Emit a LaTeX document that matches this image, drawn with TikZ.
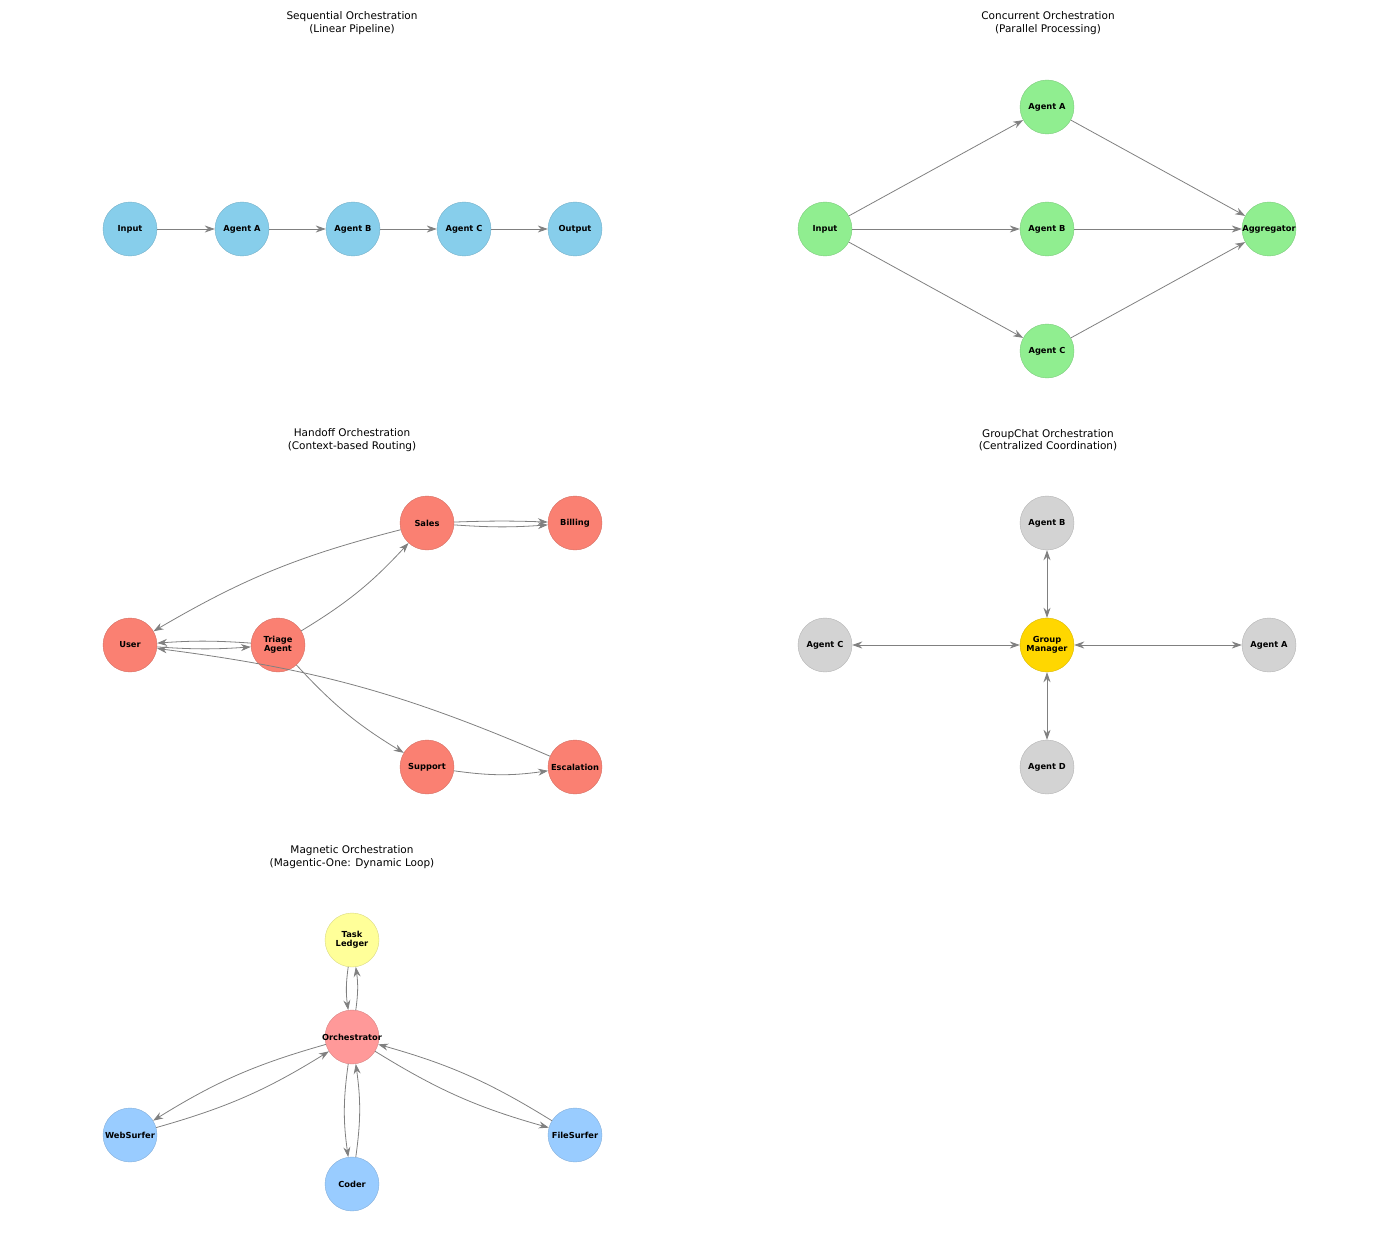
\documentclass[tikz,border=0pt]{standalone}
\usepackage{fontspec}
\setmainfont{DejaVu Sans}
\usetikzlibrary{arrows.meta}
\definecolor{sky}{HTML}{87CEEB}
\definecolor{lgreen}{HTML}{90EE90}
\definecolor{salmon}{HTML}{FA8072}
\definecolor{lgray}{HTML}{D3D3D3}
\definecolor{gold}{HTML}{FFD700}
\definecolor{lyellow}{HTML}{FFFF99}
\definecolor{lred}{HTML}{FF9999}
\definecolor{lblue}{HTML}{99CCFF}
\definecolor{edgec}{HTML}{808080}
\begin{document}
\begin{tikzpicture}[x=1pt,y=-1pt,
  nd/.style={circle,minimum size=54pt,inner sep=0pt,fill=#1,draw=#1!85!black,line width=0.4pt},
  t/.style={label={[font=\fontsize{8.3}{9.3}\selectfont\bfseries,align=center,inner sep=0pt]center:#1}},
  ttl/.style={font=\fontsize{10.5}{12.5}\selectfont,align=center},
  e/.style={draw=edgec,line width=0.8pt,-{Stealth[length=10pt,width=7pt]}},
  be/.style={draw=edgec,line width=0.8pt,{Stealth[length=10pt,width=7pt]}-{Stealth[length=10pt,width=7pt]}},
  br/.style={bend right=8}]
\useasboundingbox (0,0) rectangle (1400,1260);
% Sequential
\node[ttl] (t1) at (352,23) {Sequential Orchestration\\(Linear Pipeline)};
\node[nd=sky,t=Input] (s1) at (130,229) {};
\node[nd=sky,t=Agent A] (s2) at (242,229) {};
\node[nd=sky,t=Agent B] (s3) at (353,229) {};
\node[nd=sky,t=Agent C] (s4) at (464,229) {};
\node[nd=sky,t=Output] (s5) at (575,229) {};
\draw[e] (s1)--(s2); \draw[e] (s2)--(s3); \draw[e] (s3)--(s4); \draw[e] (s4)--(s5);
% Concurrent
\node[ttl] (t2) at (1048,23) {Concurrent Orchestration\\(Parallel Processing)};
\node[nd=lgreen,t=Input] (c0) at (825,229) {};
\node[nd=lgreen,t=Agent A] (ca) at (1047,107) {};
\node[nd=lgreen,t=Agent B] (cb) at (1047,229) {};
\node[nd=lgreen,t=Agent C] (cc) at (1047,351) {};
\node[nd=lgreen,t=Aggregator] (cg) at (1269,229) {};
\draw[e] (c0)--(ca); \draw[e] (c0)--(cb); \draw[e] (c0)--(cc);
\draw[e] (ca)--(cg); \draw[e] (cb)--(cg); \draw[e] (cc)--(cg);
% Handoff
\node[ttl] (t3) at (352,440) {Handoff Orchestration\\(Context-based Routing)};
\node[nd=salmon,t=User] (hu) at (130,645) {};
\node[nd=salmon,t={Triage\\Agent}] (ht) at (278,645) {};
\node[nd=salmon,t=Sales] (hs) at (427,523) {};
\node[nd=salmon,t=Billing] (hb) at (575,523) {};
\node[nd=salmon,t=Support] (hp) at (427,767) {};
\node[nd=salmon,t=Escalation] (he) at (575,767) {};
\draw[e] (hu) to[bend right=4] (ht);
\draw[e] (ht) to[bend right=4] (hu);
\draw[e] (ht) to[br] (hs);
\draw[e] (hs) to[br] (hu);
\draw[e] (hs) to[bend right=4] (hb);
\draw[e] (hs) to[bend left=2] (hb);
\draw[e] (ht) to[br] (hp);
\draw[e] (hp) to[br] (he);
\draw[e] (he) to[br] (hu);
% GroupChat
\node[ttl] (t4) at (1048,440) {GroupChat Orchestration\\(Centralized Coordination)};
\node[nd=gold,t={Group\\Manager}] (gm) at (1047,645) {};
\node[nd=lgray,t=Agent B] (gb) at (1047,523) {};
\node[nd=lgray,t=Agent C] (gc) at (825,645) {};
\node[nd=lgray,t=Agent A] (ga) at (1269,645) {};
\node[nd=lgray,t=Agent D] (gd) at (1047,767) {};
\draw[be] (gm)--(gb); \draw[be] (gm)--(gc); \draw[be] (gm)--(ga); \draw[be] (gm)--(gd);
% Magnetic
\node[ttl] (t5) at (352,857) {Magnetic Orchestration\\(Magentic-One: Dynamic Loop)};
\node[nd=lyellow,t={Task\\Ledger}] (mt) at (352,940) {};
\node[nd=lred,t=Orchestrator] (mo) at (352,1037) {};
\node[nd=lblue,t=WebSurfer] (mw) at (130,1135) {};
\node[nd=lblue,t=Coder] (mc) at (352,1184) {};
\node[nd=lblue,t=FileSurfer] (mf) at (575,1135) {};
\draw[e] (mt) to[br] (mo); \draw[e] (mo) to[br] (mt);
\draw[e] (mo) to[br] (mw); \draw[e] (mw) to[br] (mo);
\draw[e] (mo) to[br] (mc); \draw[e] (mc) to[br] (mo);
\draw[e] (mo) to[br] (mf); \draw[e] (mf) to[br] (mo);
\end{tikzpicture}
\end{document}
